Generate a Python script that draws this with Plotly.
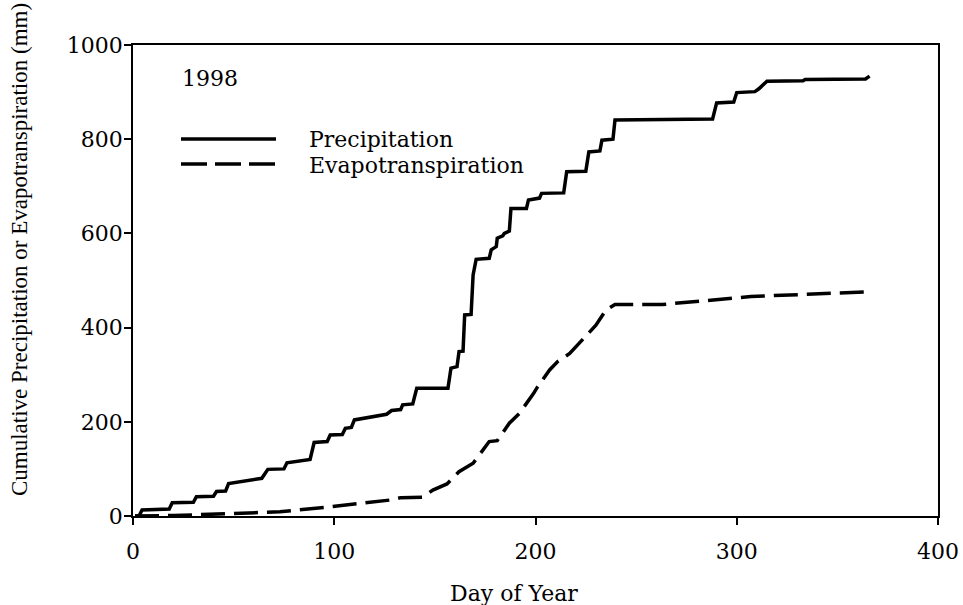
import plotly.graph_objects as go

# Cumulative precipitation (mm) by day of year, 1998
precip_day = [1, 3, 4.5, 18, 19.5, 30, 31.5, 40, 41.5, 46, 47.5, 64, 67, 75, 76.5, 88, 90, 96.5, 98,
              104, 105.5, 108.5, 110, 126, 128.5, 133, 134, 139, 141, 156.5, 158, 161, 162, 164,
              164.8, 168, 169, 170.5, 177, 178, 180.5, 181, 183.7, 184.5, 187, 187.8, 195.5, 196.5,
              202, 203, 214, 215.5, 225, 226.5, 232, 233, 238.5, 239.5, 288, 290, 298.5, 300, 309,
              311, 315, 333, 334, 364, 366]
precip_mm = [0, 0, 13, 15, 28, 29, 41, 42, 52, 53, 69, 80, 99, 100, 113, 120, 156, 158, 172,
             173, 186, 188, 204, 216, 224, 226, 236, 238, 271, 271, 314, 317, 349, 350,
             427, 428, 512, 545, 547, 565, 572, 590, 595, 600, 605, 653, 653, 671,
             675, 685, 686, 731, 732, 773, 775, 798, 800, 841, 843, 877, 879, 899, 901,
             907, 923, 924, 927, 928, 934]

# Cumulative evapotranspiration (mm)
et_day = [1, 20, 48, 73, 95, 111, 128, 133, 144, 149, 156, 162, 169, 177, 181, 187, 192, 199,
          201, 207, 211, 217, 220, 225, 230, 235, 239.5, 263, 307, 366]
et_mm = [0, 1, 5, 9, 18, 25, 34, 39, 40, 55, 68, 94, 112, 158, 160, 197, 218, 260,
         274, 310, 328, 345, 359, 384, 405, 437, 449, 449, 466, 476]

x_ticks = [0, 100, 200, 300, 400]
y_ticks = [0, 200, 400, 600, 800, 1000]

SERIF = "DejaVu Serif"

fig = go.Figure()
fig.add_trace(go.Scatter(x=precip_day, y=precip_mm, mode="lines", name="Precipitation",
                         line=dict(color="black", width=3.5), showlegend=False))
fig.add_trace(go.Scatter(x=et_day, y=et_mm, mode="lines", name="Evapotranspiration",
                         line=dict(color="black", width=3.5, dash="24px,9px"), showlegend=False))

axis_common = dict(showgrid=False, zeroline=False, showline=True, linecolor="black", linewidth=1.5,
                   mirror=True, ticks="outside", ticklen=7, tickwidth=1.5, tickcolor="black",
                   automargin=False,
                   tickfont=dict(family=SERIF, size=22, color="black"))

fig.update_xaxes(range=[0, 400], tickvals=x_ticks, ticktext=[str(v) for v in x_ticks],
                 ticklabelstandoff=8, **axis_common)
fig.update_yaxes(range=[0, 1000], tickvals=y_ticks, ticktext=[str(v) for v in y_ticks],
                 ticklabelstandoff=-3, **axis_common)

L, R, T, B = 133, 25, 45, 89
W, H = 963, 605
pw, ph = W - L - R, H - T - B

def px(x):
    return (x - L) / pw

def py(y):
    return (H - B - y) / ph

annotations = [
    dict(text="1998", x=px(180), y=py(78), xanchor="left", yanchor="middle"),
    dict(text="Precipitation", x=px(307), y=py(139), xanchor="left", yanchor="middle"),
    dict(text="Evapotranspiration", x=px(307), y=py(165), xanchor="left", yanchor="middle"),
    dict(text="Day of Year", x=px(514), y=py(593), xanchor="center", yanchor="middle"),
]
for a in annotations:
    a.update(xref="paper", yref="paper", showarrow=False,
             font=dict(family=SERIF, size=22, color="black"))
annotations.append(dict(text="Cumulative Precipitation or Evapotranspiration (mm)",
                        x=px(19), y=py(250), xref="paper", yref="paper", showarrow=False,
                        textangle=-90, xanchor="center", yanchor="middle",
                        font=dict(family="Liberation Serif", size=23, color="black")))

shapes = [
    dict(type="line", xref="paper", yref="paper", x0=px(181), x1=px(276), y0=py(139), y1=py(139),
         line=dict(color="black", width=3.5)),
    dict(type="line", xref="paper", yref="paper", x0=px(181), x1=px(276), y0=py(164), y1=py(164),
         line=dict(color="black", width=3.5, dash="26px,8px")),
]

fig.update_layout(width=W, height=H, margin=dict(l=L, r=R, t=T, b=B, autoexpand=False),
                  paper_bgcolor="white", plot_bgcolor="white",
                  annotations=annotations, shapes=shapes, showlegend=False)

fig.write_html("out.html", config={"displayModeBar": False},
               post_script="document.body.style.margin='0';document.body.style.overflow='hidden';")
